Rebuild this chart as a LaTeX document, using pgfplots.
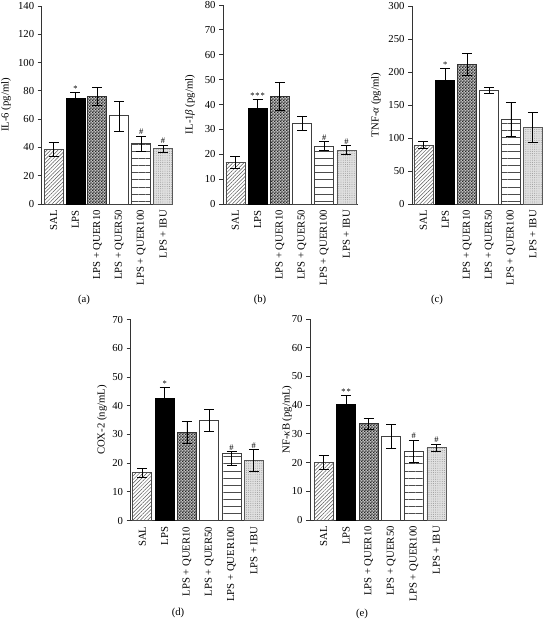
\documentclass[border=0pt]{standalone}
\usepackage{fontspec}
\setmainfont{Liberation Serif}
\usepackage{pgfplots}
\pgfplotsset{compat=1.18}
\usetikzlibrary{patterns,patterns.meta}
\pgfdeclarepatternformonly{finecheck}{\pgfpointorigin}{\pgfqpoint{2.8bp}{2.8bp}}{\pgfqpoint{2.8bp}{2.8bp}}{%
  \pgfpathrectangle{\pgfpointorigin}{\pgfqpoint{1.4bp}{1.4bp}}%
  \pgfpathrectangle{\pgfqpoint{1.4bp}{1.4bp}}{\pgfqpoint{1.4bp}{1.4bp}}%
  \pgfusepath{fill}}
\newcommand\ff{\fontsize{10.7bp}{12bp}\selectfont}
\newcommand\fs{\fontsize{8.5bp}{10bp}\selectfont}
\pgfplotsset{
  panel/.style={
    scale only axis, anchor=south west, clip=false,
    axis x line*=bottom, axis y line*=left,
    axis line style={black!80, line width=0.8bp},
    ymin=0, enlargelimits=false,
    ybar, bar width=19bp,
    xtick={0,...,5},
    xticklabels={SAL, LPS, LPS + QUER10, LPS + QUER50, LPS + QUER100, LPS + IBU},
    x tick style={draw=none},
    xticklabel style={rotate=90, anchor=east, font=\ff, inner sep=2bp},
    y tick style={black!80, line width=0.8bp},
    tick align=outside, major tick length=4bp,
    yticklabel style={font=\ff},
    /pgf/number format/assume math mode=true,
  },
  eb/.style={bar shift=0pt,
    error bars/y dir=both, error bars/y explicit,
    error bars/error mark=-,
    error bars/error mark options={rotate=90, mark size=5bp, line width=0.8bp, black},
    error bars/error bar style={line width=0.8bp, black}},
  sal/.style={eb, draw=black!70, line width=0.7bp, fill=white,
    postaction={pattern={Lines[angle=45,distance=2.6bp,line width=0.5bp]}, pattern color=black!65}},
  lps/.style={eb, draw=black, line width=0.7bp, fill=black},
  q10/.style={eb, draw=black!80, line width=0.7bp, fill=black!25,
    postaction={pattern=finecheck, pattern color=black!85}},
  q50/.style={eb, draw=black!75, line width=0.7bp, fill=white},
  q100/.style={eb, draw=black!75, line width=0.7bp, fill=white,
    postaction={pattern={Lines[angle=0,distance=7.1bp,line width=0.7bp]}, pattern color=black!70}},
  ibu/.style={eb, draw=black!65, line width=0.7bp, fill=black!12,
    postaction={pattern={Dots[distance=2.2bp,radius=0.45bp]}, pattern color=black!45}},
}
\begin{document}
\begin{tikzpicture}
\useasboundingbox (0,0) rectangle (545bp,620bp);
% (a)
\begin{axis}[panel, at={(41.7bp,416bp)}, width=131.2bp, height=198bp,
  xmin=-0.54, xmax=5.45, ymax=140, ytick={0,20,...,140},
  ylabel={IL-6 (pg/ml)},
  ylabel style={font=\ff, at={([xshift=-35.7bp]axis description cs:0,0.5)}, anchor=center}]
\addplot[sal] coordinates {(0,38.6) +- (0,4.9)};
\addplot[lps] coordinates {(1,74.6) +- (0,4)};
\addplot[q10] coordinates {(2,76) +- (0,6.6)};
\addplot[q50] coordinates {(3,62.4) += (0,10.1) -= (0,11.1)};
\addplot[q100] coordinates {(4,42.6) +- (0,5.5)};
\addplot[ibu] coordinates {(5,39) +- (0,2.7)};
\node[font=\fs, anchor=south, inner sep=1bp] at (axis cs:1,78.6) {*};
\node[font=\fs, anchor=south, inner sep=1bp] at (axis cs:4,48.1) {\#};
\node[font=\fs, anchor=south, inner sep=1bp] at (axis cs:5,41.7) {\#};
\end{axis}
% (b)
\begin{axis}[panel, at={(223bp,416bp)}, width=134.5bp, height=199bp,
  xmin=-0.56, xmax=5.5, ymax=80, ytick={0,10,...,80},
  ylabel={IL-1\textit{β} (pg/ml)},
  ylabel style={font=\ff, at={([xshift=-33bp]axis description cs:0,0.5)}, anchor=center}]
\addplot[sal] coordinates {(0,16.6) +- (0,2.4)};
\addplot[lps] coordinates {(1,38.6) +- (0,3.5)};
\addplot[q10] coordinates {(2,43.3) +- (0,5.5)};
\addplot[q50] coordinates {(3,32.4) +- (0,3)};
\addplot[q100] coordinates {(4,23.3) +- (0,1.8)};
\addplot[ibu] coordinates {(5,21.7) +- (0,1.8)};
\node[font=\fs, anchor=south, inner sep=1bp] at (axis cs:1,42.1) {*\kern1bp*\kern1bp*};
\node[font=\fs, anchor=south, inner sep=1bp] at (axis cs:4,25.1) {\#};
\node[font=\fs, anchor=south, inner sep=1bp] at (axis cs:5,23.5) {\#};
\end{axis}
% (c)
\begin{axis}[panel, at={(412bp,416bp)}, width=131.4bp, height=198bp,
  xmin=-0.52, xmax=5.48, ymax=300, ytick={0,50,...,300},
  ylabel={TNF-\textit{α} (pg/ml)},
  ylabel style={font=\ff, at={([xshift=-36bp]axis description cs:0,0.5)}, anchor=center}]
\addplot[sal] coordinates {(0,89.3) +- (0,5)};
\addplot[lps] coordinates {(1,187.6) +- (0,17.5)};
\addplot[q10] coordinates {(2,211.8) +- (0,16.6)};
\addplot[q50] coordinates {(3,172) +- (0,5)};
\addplot[q100] coordinates {(4,128.5) +- (0,26)};
\addplot[ibu] coordinates {(5,116) +- (0,22.5)};
\node[font=\fs, anchor=south, inner sep=1bp] at (axis cs:1,205.1) {*};
\end{axis}
% (d)
\begin{axis}[panel, at={(130.5bp,99.5bp)}, width=133.4bp, height=201bp,
  xmin=-0.53, xmax=5.45, ymax=70, ytick={0,10,...,70},
  ylabel={COX-2 (ng/mL)},
  ylabel style={font=\ff, at={([xshift=-28.5bp]axis description cs:0,0.5)}, anchor=center}]
\addplot[sal] coordinates {(0,16.6) +- (0,1.5)};
\addplot[lps] coordinates {(1,42.7) +- (0,3.5)};
\addplot[q10] coordinates {(2,30.8) +- (0,3.8)};
\addplot[q50] coordinates {(3,34.9) +- (0,3.8)};
\addplot[q100] coordinates {(4,23.3) += (0,0.6) -= (0,4.1)};
\addplot[ibu] coordinates {(5,21) +- (0,3.8)};
\node[font=\fs, anchor=south, inner sep=1bp] at (axis cs:1,46.2) {*};
\node[font=\fs, anchor=south, inner sep=1bp] at (axis cs:4,23.9) {\#};
\node[font=\fs, anchor=south, inner sep=1bp] at (axis cs:5,24.8) {\#};
\end{axis}
% (e)
\begin{axis}[panel, at={(310bp,100bp)}, width=137bp, height=201bp,
  xmin=-0.6, xmax=5.47, ymax=70, ytick={0,10,...,70},
  ylabel={NF-\textit{κ}B (pg/mL)},
  ylabel style={font=\ff, at={([xshift=-23bp]axis description cs:0,0.5)}, anchor=center}]
\addplot[sal] coordinates {(0,20) +- (0,2.4)};
\addplot[lps] coordinates {(1,40.3) +- (0,3)};
\addplot[q10] coordinates {(2,33.5) +- (0,1.8)};
\addplot[q50] coordinates {(3,29) +- (0,4.2)};
\addplot[q100] coordinates {(4,24) +- (0,3.8)};
\addplot[ibu] coordinates {(5,25.2) +- (0,1.3)};
\node[font=\fs, anchor=south, inner sep=1bp] at (axis cs:1,43.3) {*\kern1bp*};
\node[font=\fs, anchor=south, inner sep=1bp] at (axis cs:4,27.8) {\#};
\node[font=\fs, anchor=south, inner sep=1bp] at (axis cs:5,26.5) {\#};
\end{axis}
\node[font=\ff] at (84bp,320bp) {(a)};
\node[font=\ff] at (260bp,320bp) {(b)};
\node[font=\ff] at (437bp,320bp) {(c)};
\node[font=\ff] at (178bp,7bp) {(d)};
\node[font=\ff] at (362bp,6bp) {(e)};
\end{tikzpicture}
\end{document}
